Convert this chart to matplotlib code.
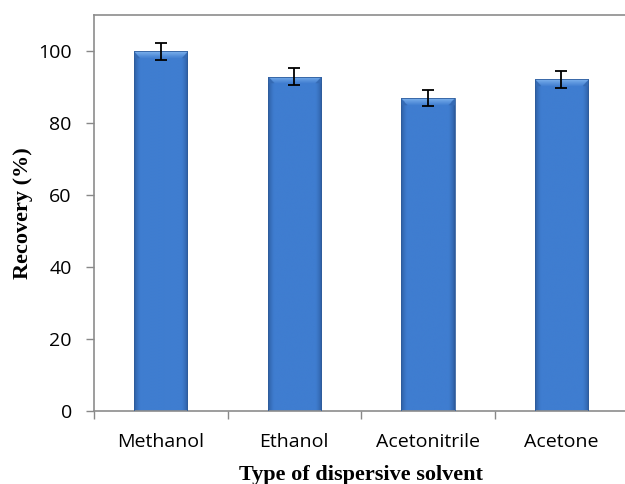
import numpy as np
import matplotlib.pyplot as plt
from matplotlib.colors import to_rgb

solvents = ["Methanol", "Ethanol", "Acetonitrile", "Acetone"]
recovery = [100.0, 93.0, 87.0, 92.2]
errors = [2.3, 2.4, 2.3, 2.5]

TICK_FONT = ["Open Sans", "DejaVu Sans"]
LABEL_FONT = "Liberation Serif"

fig = plt.figure(figsize=(6.25, 4.84), dpi=100)
ax = fig.add_axes([0.1504, 0.1508, 1.005 - 0.1504, 0.968 - 0.1508])

x = np.arange(len(solvents))
bars = ax.bar(x, recovery, width=0.4, facecolor="none", edgecolor="#2f5d9c",
              linewidth=0.6, zorder=3)

# cylinder-like shading with a bevelled top, clipped to each bar
edge = np.array(to_rgb("#2b5899"))
mid = np.array(to_rgb("#3f7dd0"))
bevel = np.array(to_rgb("#7fb3ee"))
depth = 2.0        # bevel depth in data units
side = 0.12        # bevel width as a fraction of bar width
for b in bars:
    bx, bw, bh = b.get_x(), b.get_width(), b.get_height()
    ny, nx = 600, 100
    xs = np.linspace(0, 1, nx)
    ys = np.linspace(bh, 0, ny)
    t = 1 - np.abs(xs - 0.5) * 2
    t = np.clip(t * 4.5, 0, 1) ** 0.6
    row = edge[None, :] * (1 - t[:, None]) + mid[None, :] * t[:, None]
    img = np.repeat(row[None, :, :], ny, axis=0)
    xfrac = np.minimum(xs, 1 - xs)
    for i in range(ny):
        d = bh - ys[i]
        if d < depth:
            f = d / depth
            face = xfrac > side * f
            g = f ** 0.9
            img[i, face] = bevel * (1 - g) + mid * g
            img[i, ~face] = 0.5 * edge + 0.5 * mid
    im = ax.imshow(img, extent=[bx, bx + bw, 0, bh], aspect="auto",
                   interpolation="bilinear", zorder=2)
    im.set_clip_path(b)

ax.errorbar(x, recovery, yerr=errors, fmt="none", ecolor="black",
            elinewidth=1.3, capsize=4, capthick=1.3, zorder=4)

ax.set_xlim(-0.5, len(solvents) - 0.5)
ax.set_ylim(0, 110)
ax.set_yticks([0, 20, 40, 60, 80, 100])

ax.set_xticks(np.arange(-0.5, len(solvents), 1.0))
ax.set_xticklabels([])
ax.set_xticks(x, minor=True)
ax.set_xticklabels(solvents, minor=True)
ax.tick_params(axis="x", which="minor", length=0, pad=16)
ax.tick_params(axis="x", which="major", length=6, color="#888888", width=1)
ax.tick_params(axis="y", length=6, color="#888888", width=1, pad=10)

for lab in ax.get_xticklabels(minor=True) + ax.get_yticklabels():
    lab.set_fontfamily(TICK_FONT)
    lab.set_fontsize(14)

for s in ax.spines.values():
    s.set_color("#8c8c8c")
    s.set_linewidth(1.2)

ax.set_xlabel("Type of dispersive solvent", fontfamily=LABEL_FONT,
              fontweight="bold", fontsize=16, labelpad=10)
ax.set_ylabel("Recovery (%)", fontfamily=LABEL_FONT, fontweight="bold",
              fontsize=16, labelpad=4)

fig.savefig("out.png", dpi=100)
